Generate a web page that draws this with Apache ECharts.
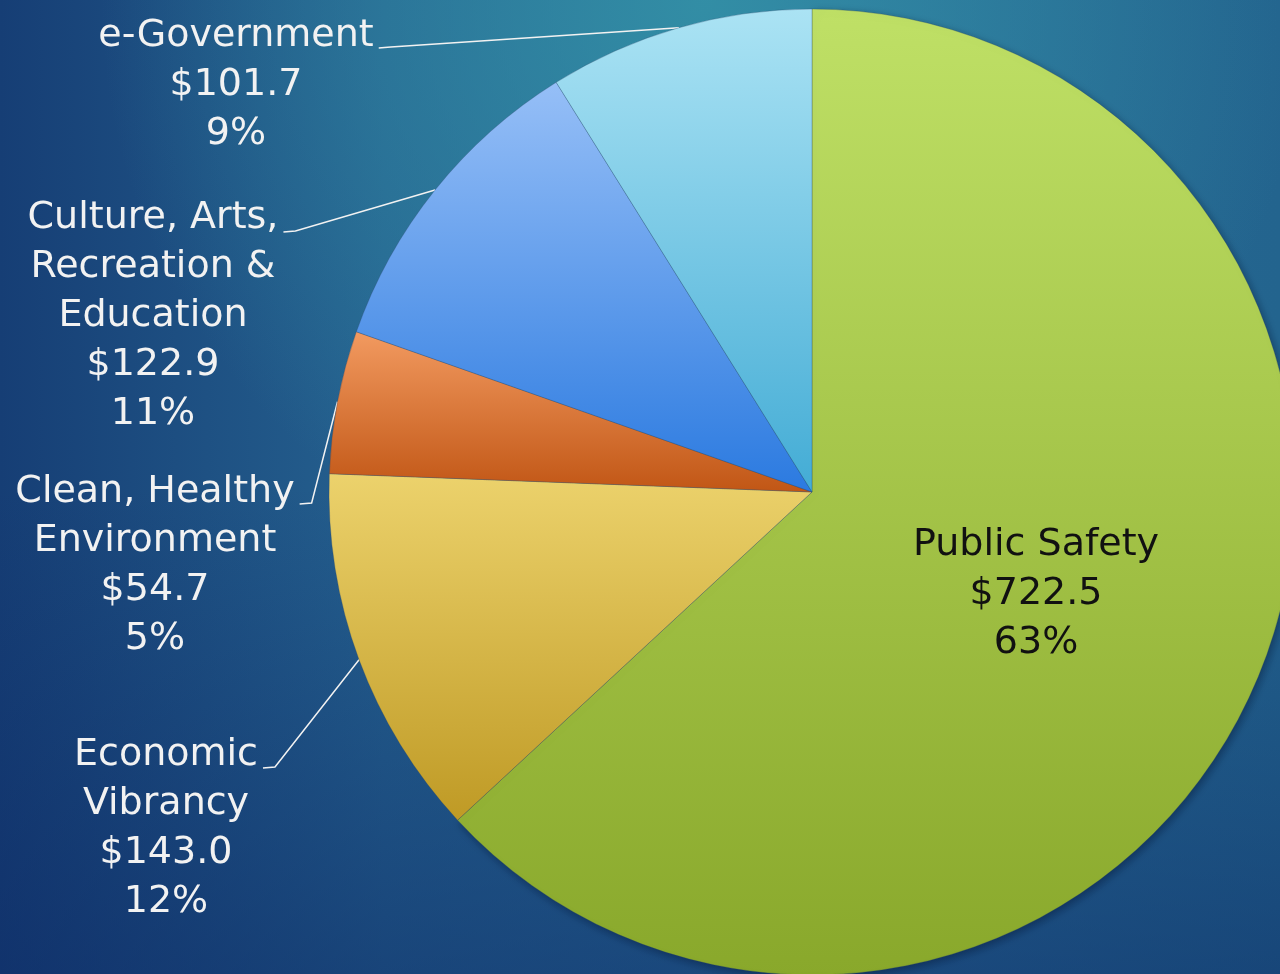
<!DOCTYPE html>
<html>
<head>
<meta charset="utf-8">
<script src="https://cdn.jsdelivr.net/npm/echarts@6/dist/echarts.min.js"></script>
<style>
  html, body { margin: 0; padding: 0; }
  #main { width: 1280px; height: 974px; }
</style>
</head>
<body>
<div id="main"></div>
<script>
// budget areas, clockwise from 12 o'clock
const categories = [
  "Public Safety",
  "Economic\nVibrancy",
  "Clean, Healthy\nEnvironment",
  "Culture, Arts,\nRecreation &\nEducation",
  "e-Government",
];
const amounts = [722.5, 143.0, 54.7, 122.9, 101.7];

// top / bottom colour of each slice's vertical gradient
const sliceColors = [
  ["#bfe066", "#89a82b"],
  ["#ecd26c", "#bf9a25"],
  ["#f29a60", "#c15615"],
  ["#96bff7", "#2b7ae0"],
  ["#abe3f4", "#43acd5"],
];

// outside labels: text centre x, first line centre y, leader line elbow point
const labelSpots = [
  null,
  { x: 166, y: 755, elbowY: 767 },
  { x: 155, y: 492, elbowY: 503 },
  { x: 153, y: 218, elbowY: 231 },
  { x: 236, y: 36, elbowY: 47 },
];

const chart = echarts.init(document.getElementById("main"));

const lineH = 49;
const fontSize = 38;
const font = "'DejaVu Sans', sans-serif";

// width of a label's first line, so the leader line stops just after it
const ctx = document.createElement("canvas").getContext("2d");
ctx.font = fontSize + "px " + font;
const firstLineWidth = (name) => ctx.measureText(name.split("\n")[0]).width;

const data = categories.map((name, i) => {
  const item = {
    name: name,
    value: amounts[i],
    itemStyle: {
      color: new echarts.graphic.LinearGradient(0, 0, 0, 1, [
        { offset: 0, color: sliceColors[i][0] },
        { offset: 1, color: sliceColors[i][1] },
      ]),
    },
  };
  if (i === 0) {
    item.label = { position: "inside", color: "#111111", offset: [0, 4] };
    item.labelLine = { show: false };
    item.itemStyle.shadowColor = "rgba(5,20,50,0.45)";
    item.itemStyle.shadowBlur = 8;
    item.itemStyle.shadowOffsetX = 2;
    item.itemStyle.shadowOffsetY = 3;
  }
  return item;
});

const option = {
  backgroundColor: new echarts.graphic.LinearGradient(0, 0, 1, 0, [
    { offset: 0, color: "#163e75" },
    { offset: 0.3, color: "#25618f" },
    { offset: 0.6, color: "#296b97" },
    { offset: 1, color: "#23648e" },
  ]),
  graphic: [
    {
      type: "rect",
      z: -10,
      silent: true,
      shape: { x: 0, y: 0, width: 1280, height: 974 },
      style: {
        fill: new echarts.graphic.RadialGradient(0.55, 0, 0.62, [
          { offset: 0, color: "rgba(52,148,168,0.85)" },
          { offset: 1, color: "rgba(52,148,168,0)" },
        ]),
      },
    },
    {
      type: "rect",
      z: -10,
      silent: true,
      shape: { x: 0, y: 0, width: 1280, height: 974 },
      style: {
        fill: new echarts.graphic.LinearGradient(0, 0, 0, 1, [
          { offset: 0.5, color: "rgba(12,40,100,0)" },
          { offset: 1, color: "rgba(12,40,100,0.5)" },
        ]),
      },
    },
  ],
  series: [
    {
      type: "pie",
      center: [812, 492],
      radius: 483,
      startAngle: 90,
      clockwise: true,
      avoidLabelOverlap: false,
      silent: true,
      itemStyle: {
        borderWidth: 0.5,
        borderColor: "rgba(40,70,100,0.3)",
      },
      label: {
        show: true,
        position: "outside",
        color: "#f2f2f2",
        fontFamily: font,
        fontSize: fontSize,
        lineHeight: lineH,
        align: "center",
        formatter: (p) =>
          p.name + "\n$" + p.value.toFixed(1) + "\n" + Math.round(p.percent) + "%",
      },
      labelLine: {
        show: true,
        length: 20,
        length2: 10,
        lineStyle: { color: "#f2f2f2", width: 1.5 },
      },
      labelLayout: (p) => {
        const spot = labelSpots[p.dataIndex];
        if (!spot) return {};
        const endX = spot.x + firstLineWidth(categories[p.dataIndex]) / 2 + 5;
        return {
          x: spot.x,
          y: spot.y - lineH / 2,
          align: "center",
          verticalAlign: "top",
          labelLinePoints: [
            p.labelLinePoints[0],
            [endX + 12, spot.elbowY],
            [endX, spot.elbowY + 1],
          ],
        };
      },
      data: data,
    },
  ],
};

chart.setOption(option);
</script>
</body>
</html>
